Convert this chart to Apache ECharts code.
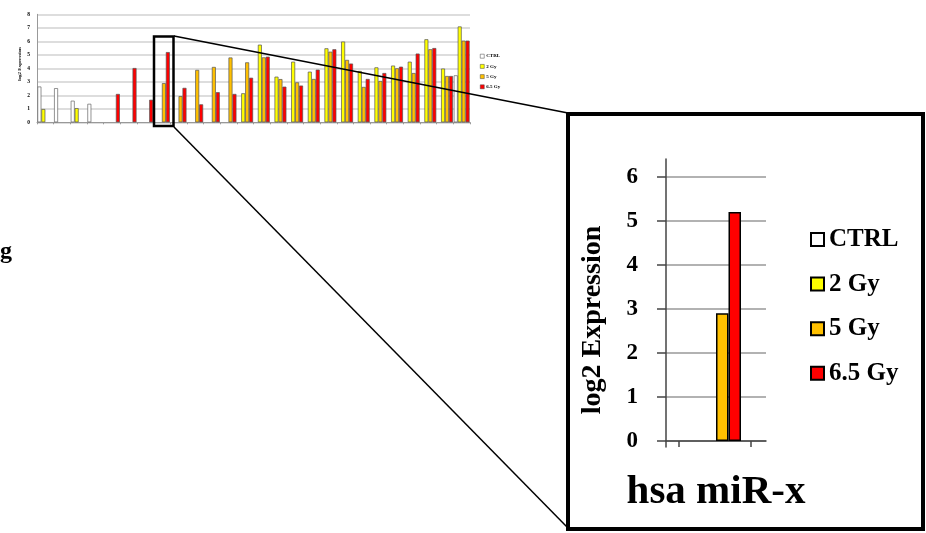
<!DOCTYPE html>
<html><head><meta charset="utf-8">
<script src="https://cdn.jsdelivr.net/npm/echarts@6/dist/echarts.min.js"></script>
<style>html,body{margin:0;padding:0;background:#fff}#c{width:926px;height:533px}</style>
</head><body><div id="c"></div>
<script>
// ---- data ----
const categories = ['miR-a','miR-b','miR-c','miR-d','miR-e','miR-f','miR-g','hsa miR-x','miR-i','miR-j','miR-k','miR-l','miR-m',
  'miR-n','miR-o','miR-p','miR-q','miR-r','miR-s','miR-t','miR-u','miR-v','miR-w','miR-y','miR-z','miR-aa'];
const seriesNames = ['CTRL', '2 Gy', '5 Gy', '6.5 Gy'];
const ctrl = [2.65, 2.53, 1.6, 1.37, null, null, null, null, null, null, null, null, null,
  null, null, null, null, null, null, null, null, null, null, null, null, 3.48];
const gy2 = [0.98, null, 1.05, null, null, null, null, null, null, null, null, null, 2.15,
  5.75, 3.38, 4.49, 3.75, 5.48, 5.98, 3.8, 4.07, 4.2, 4.49, 6.15, 3.98, 7.1];
const gy5 = [null, null, null, null, null, null, null, 2.9, 1.94, 3.88, 4.1, 4.8, 4.44,
  4.81, 3.2, 2.96, 3.21, 5.23, 4.62, 2.62, 3.06, 4.0, 3.65, 5.41, 3.43, 6.05];
const gy65 = [null, null, null, null, 2.1, 4.02, 1.67, 5.2, 2.55, 1.33, 2.23, 2.1, 3.3,
  4.86, 2.64, 2.72, 3.9, 5.41, 4.35, 3.21, 3.65, 4.12, 5.09, 5.5, 3.43, 6.05];
const insetIndex = 7;
const yNameText = 'log2 Expression';
const sideText = 'g';

// ---- styling ----
const colors = ['#FFFFFF', '#FFFF00', '#FFC000', '#FF0000'];
const serif = "'Times New Roman','Liberation Serif',serif";
const allValues = [ctrl, gy2, gy5, gy65];

const chart = echarts.init(document.getElementById('c'), null, {renderer: 'canvas'});

const topSeries = allValues.map((arr, i) => ({
  name: seriesNames[i], type: 'bar', xAxisIndex: 0, yAxisIndex: 0,
  data: arr, barGap: '0%', barCategoryGap: '5%',
  itemStyle: {color: colors[i], borderColor: i === 0 ? '#666' : '#555', borderWidth: 0.7},
  animation: false
}));
const insetSeries = allValues.map((arr, i) => ({
  name: seriesNames[i], type: 'bar', xAxisIndex: 1, yAxisIndex: 1,
  data: [arr[insetIndex]], barGap: '0%', barWidth: 12.5,
  itemStyle: {color: colors[i], borderColor: '#000', borderWidth: 1.5},
  animation: false
}));

const option = {
  animation: false,
  backgroundColor: '#fff',
  color: colors,
  grid: [
    {left: 37, top: 14.3, width: 433, height: 108},
    {left: 666, top: 176.7, width: 100, height: 264.3},
    {left: 666, top: 159, width: 100, height: 288}
  ],
  xAxis: [
    {gridIndex: 0, type: 'category', data: categories,
      axisLine: {lineStyle: {color: '#999', width: 1}},
      axisTick: {show: true, interval: 0, length: 2, lineStyle: {color: '#999'}},
      axisLabel: {show: false}},
    {gridIndex: 1, type: 'category', data: [categories[insetIndex]],
      axisLine: {show: false}, axisTick: {show: false},
      axisLabel: {fontFamily: serif, fontWeight: 'bold', fontSize: 41, color: '#000', margin: 31}},
    {gridIndex: 1, type: 'value', min: 0, max: 100, position: 'bottom',
      axisLine: {show: true, lineStyle: {color: '#444', width: 1.5}},
      axisTick: {show: true, customValues: [13, 85], length: 6, lineStyle: {color: '#444', width: 1.5}},
      axisLabel: {show: false}, splitLine: {show: false}},
    {gridIndex: 2, type: 'value', show: false, min: 0, max: 1}
  ],
  yAxis: [
    {gridIndex: 0, type: 'value', min: 0, max: 8, interval: 1,
      axisLine: {show: true, lineStyle: {color: '#999', width: 1}},
      axisTick: {show: false},
      axisLabel: {fontFamily: serif, fontWeight: 'bold', fontSize: 5.5, color: '#000', margin: 7},
      splitLine: {lineStyle: {color: '#d2d2d2', width: 1.5}}},
    {gridIndex: 1, type: 'value', min: 0, max: 6, interval: 1,
      axisLine: {show: false},
      axisTick: {show: true, length: 9, lineStyle: {color: '#444', width: 1.5}},
      axisLabel: {fontFamily: serif, fontWeight: 'bold', fontSize: 23, color: '#000', margin: 28},
      splitLine: {lineStyle: {color: '#999', width: 1.5}}},
    {gridIndex: 2, type: 'value', min: 0, max: 1,
      axisLine: {show: true, lineStyle: {color: '#444', width: 1.5}},
      axisTick: {show: false}, axisLabel: {show: false}, splitLine: {show: false}}
  ],
  legend: [
    {data: seriesNames, orient: 'vertical', left: 480, top: 53.7, padding: 0,
      itemWidth: 4, itemHeight: 4, itemGap: 5.2, icon: 'rect',
      itemStyle: {borderColor: '#444', borderWidth: 0.5},
      textStyle: {fontFamily: serif, fontWeight: 'bold', fontSize: 5, lineHeight: 5, color: '#000', padding: [0, 0, 0, -3]},
      selectedMode: false},
    {data: seriesNames, orient: 'vertical', left: 810, top: 227, padding: 0,
      itemWidth: 13, itemHeight: 13, itemGap: 19.6, icon: 'rect',
      itemStyle: {borderColor: '#000', borderWidth: 2},
      textStyle: {fontFamily: serif, fontWeight: 'bold', fontSize: 25, lineHeight: 23, color: '#000'},
      selectedMode: false}
  ],
  graphic: [
    {type: 'rect', z: 100, shape: {x: 568, y: 114, width: 355, height: 415},
      style: {fill: 'none', stroke: '#000', lineWidth: 4}},
    {type: 'rect', z: 100, shape: {x: 154, y: 36.5, width: 19.5, height: 89.5},
      style: {fill: 'none', stroke: '#000', lineWidth: 2.5}},
    {type: 'line', z: 100, shape: {x1: 174, y1: 36, x2: 568, y2: 113},
      style: {stroke: '#000', lineWidth: 1.5}},
    {type: 'line', z: 100, shape: {x1: 174, y1: 127, x2: 567, y2: 527},
      style: {stroke: '#000', lineWidth: 1.5}},
    {type: 'text', z: 100, x: 20, y: 64, rotation: Math.PI / 2,
      style: {text: yNameText, font: "bold 5px " + serif, fill: '#000', align: 'center', verticalAlign: 'middle'}},
    {type: 'text', z: 100, x: 593, y: 320, rotation: Math.PI / 2,
      style: {text: yNameText, font: "bold 28px " + serif, fill: '#000', align: 'center', verticalAlign: 'middle'}},
    {type: 'text', z: 100, x: 0, y: 252,
      style: {text: sideText, font: "bold 24px " + serif, fill: '#000', align: 'left', verticalAlign: 'middle'}}
  ],
  series: topSeries.concat(insetSeries)
};
chart.setOption(option);
</script>
</body></html>
